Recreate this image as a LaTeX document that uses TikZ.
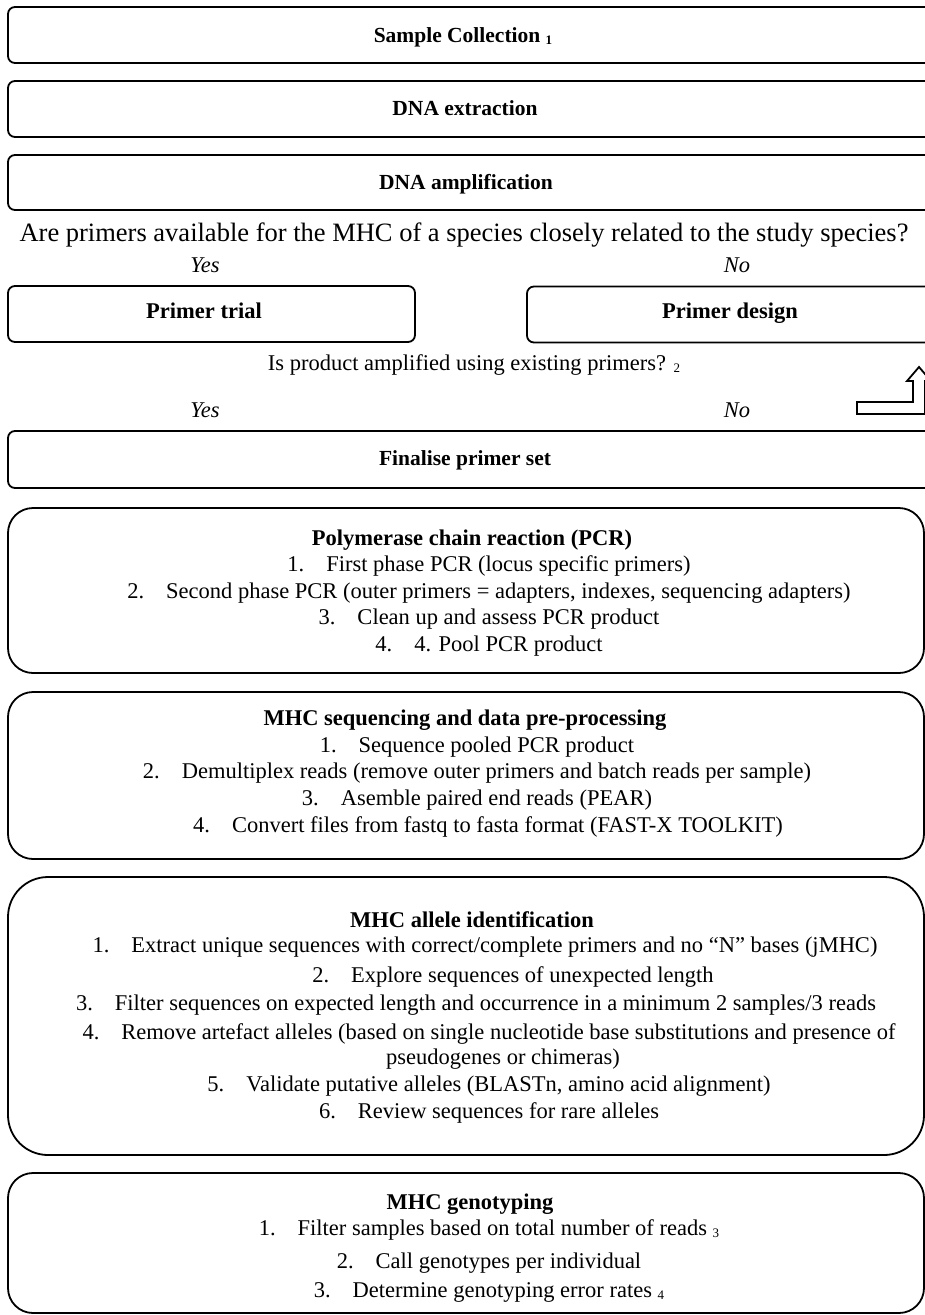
\documentclass[tikz,border=0pt]{standalone}
\usepackage{fontspec}
\setmainfont{Liberation Serif}
\newcommand{\smn}[1]{\raisebox{-2pt}{\fontsize{13}{13}\selectfont #1}}
\newcommand{\itm}[2]{#1.\hspace{22pt}#2}
\begin{document}
\begin{tikzpicture}[x=1pt,y=-1pt,
  every node/.style={inner sep=0pt},
  txt/.style={font=\fontsize{22.5}{26.5}\selectfont},
  bigq/.style={font=\fontsize{26.5}{30}\selectfont},
  head/.style={font=\fontsize{22.5}{26.5}\selectfont\bfseries},
  title/.style={font=\fontsize{21.5}{26}\selectfont\bfseries},
  ans/.style={font=\fontsize{22.5}{26.5}\selectfont\itshape},
  flatbox/.style={draw, line width=1.8pt, rounded corners=7pt, minimum height=56pt},
  roundbox/.style={draw, line width=1.8pt, rounded corners=#1, minimum width=916pt},
  listtext/.style={align=center, anchor=north},
  blockarrow/.style={draw, line width=1.8pt, fill=white, line join=miter}
]
\useasboundingbox (0,0) rectangle (925,1315);
\clip (0,0) rectangle (925,1315);

% top boxes
\node[flatbox, minimum width=942pt] (b1) at (479,35) {};
\node[title, anchor=base] (t1) at (463,42) {Sample Collection \smn{1}};
\node[flatbox, minimum width=942pt] (b2) at (479,109) {};
\node[title, anchor=base] (t2) at (465,115) {DNA extraction};
\node[flatbox, minimum width=942pt, minimum height=55pt] (b3) at (479,182.5) {};
\node[title, anchor=base] (t3) at (466,189) {DNA amplification};

\node[bigq, anchor=base] (q1) at (464,241) {Are primers available for the MHC of a species closely related to the study species?};
\node[ans, anchor=base] (yes1) at (205,272) {Yes};
\node[ans, anchor=base] (no1) at (737,272) {No};

\node[flatbox, minimum width=407pt] (trial) at (211.5,314) {};
\node[head, anchor=base] (ttrial) at (204,318) {Primer trial};
\node[flatbox, minimum width=423pt] (design) at (738.5,314.5) {};
\node[head, anchor=base] (tdesign) at (730,318) {Primer design};

\node[txt, anchor=base] (q2) at (474,370) {Is product amplified using existing primers? \smn{2}};
\node[ans, anchor=base] (yes2) at (205,417) {Yes};
\node[ans, anchor=base] (no2) at (737,417) {No};

% bent block arrow
\coordinate (arrowstart) at (857,402);
\draw[blockarrow] (arrowstart) -- (913,402) -- (913,381) -- (907,381) -- (919,367)
  -- (931,381) -- (925,381) -- (925,414) -- (857,414) -- cycle;

\node[flatbox, minimum width=942pt, minimum height=57pt] (fin) at (479,459.5) {};
\node[title, anchor=base] (tfin) at (465,465) {Finalise primer set};

% PCR
\node[roundbox=25pt, minimum height=165pt] (pcr) at (466,590.5) {};
\node[txt, listtext] (tpcr) at (489,529.5) {%
\hspace*{-34pt}\textbf{Polymerase chain reaction (PCR)}\\
\itm{1}{First phase PCR (locus specific primers)}\\
\itm{2}{Second phase PCR (outer primers = adapters, indexes, sequencing adapters)}\\
\itm{3}{Clean up and assess PCR product}\\
\itm{4}{4. Pool PCR product}};

% sequencing
\node[roundbox=25pt, minimum height=167pt] (seq) at (466,775.5) {};
\node[font=\fontsize{22.5}{26.75}\selectfont, listtext] (tseq) at (477,709.5) {%
\hspace*{-24pt}\textbf{MHC sequencing and data pre-processing}\\
\itm{1}{Sequence pooled PCR product}\\
\itm{2}{Demultiplex reads (remove outer primers and batch reads per sample)}\\
\itm{3}{Asemble paired end reads (PEAR)}\\
\hspace*{22pt}\itm{4}{Convert files from fastq to fasta format (FAST-X TOOLKIT)}};

% allele identification
\node[roundbox=40pt, minimum height=278pt] (allele) at (466,1016) {};
\node[font=\fontsize{22.5}{25}\selectfont, listtext] (tallele) at (489,911.5) {%
\hspace*{-34pt}\textbf{MHC allele identification}\\
\hspace*{-8pt}\itm{1}{Extract unique sequences with correct/complete primers and no “N” bases (jMHC)}\\[5pt]
\hspace*{48pt}\itm{2}{Explore sequences of unexpected length}\\[3pt]
\hspace*{-26pt}\itm{3}{Filter sequences on expected length and occurrence in a minimum 2 samples/3 reads}\\[4pt]
\itm{4}{Remove artefact alleles (based on single nucleotide base substitutions and presence of}\\
\hspace*{28pt}pseudogenes or chimeras)\\[2pt]
\itm{5}{Validate putative alleles (BLASTn, amino acid alignment)}\\[2pt]
\itm{6}{Review sequences for rare alleles}};

% genotyping
\node[roundbox=25pt, minimum height=140pt] (geno) at (466,1243) {};
\node[font=\fontsize{22.5}{26}\selectfont, listtext] (tgeno) at (489,1193.5) {%
\hspace*{-38pt}\textbf{MHC genotyping}\\
\itm{1}{Filter samples based on total number of reads \smn{3}}\\[7pt]
\itm{2}{Call genotypes per individual}\\[3pt]
\itm{3}{Determine genotyping error rates \smn{4}}};
\end{tikzpicture}
\end{document}
